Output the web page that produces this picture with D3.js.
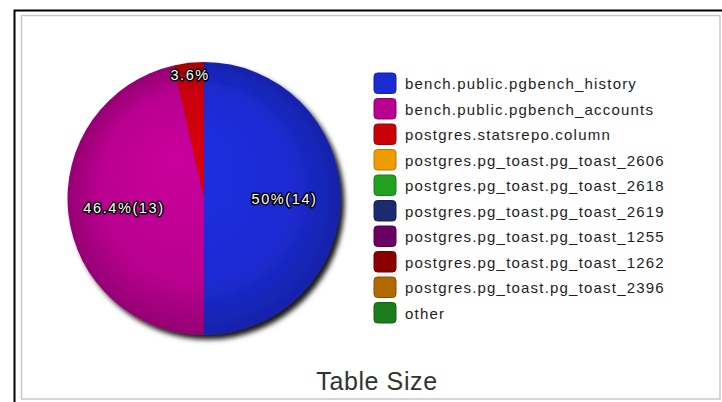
<!DOCTYPE html>
<html>
<head>
<meta charset="utf-8">
<script src="https://cdn.jsdelivr.net/npm/d3@7"></script>
<style>
  html, body { margin: 0; padding: 0; background: #fff; }
  svg { display: block; }
</style>
</head>
<body>
<svg id="chart" width="722" height="402"></svg>
<script>
// Table names shown in the legend, in slice order
const tables = [
  "bench.public.pgbench_history",
  "bench.public.pgbench_accounts",
  "postgres.statsrepo.column",
  "postgres.pg_toast.pg_toast_2606",
  "postgres.pg_toast.pg_toast_2618",
  "postgres.pg_toast.pg_toast_2619",
  "postgres.pg_toast.pg_toast_1255",
  "postgres.pg_toast.pg_toast_1262",
  "postgres.pg_toast.pg_toast_2396",
  "other"
];
// Table size counts per table
const sizes = [14, 13, 1, 0, 0, 0, 0, 0, 0, 0];
// Series colours
const colors = [
  "#1b2bd2", "#b9008f", "#c80008", "#ee9c00", "#22a020",
  "#1c2a6e", "#6a0062", "#8a0000", "#b06800", "#1c7c1c"
];
const title = "Table Size";

const svg = d3.select("#chart");
const defs = svg.append("defs");

// Frame: black outer rule, light grey inner panel
svg.append("path").attr("d", "M14.5,402 V10.5 H722")
  .attr("fill", "none").attr("stroke", "#000").attr("stroke-width", 2);
svg.append("rect").attr("x", 21.5).attr("y", 15.5).attr("width", 698.5).attr("height", 383.5)
  .attr("fill", "#fff").attr("stroke", "#c8c8c8").attr("stroke-width", 1.5);

// Pie geometry
const cx = 204, cy = 198.5, radius = 136.5;
const total = d3.sum(sizes);
const color = d3.scaleOrdinal().domain(tables).range(colors);

const pie = d3.pie().sort(null).value(d => d.size).startAngle(0).endAngle(2 * Math.PI);
const arcs = pie(tables.map((t, i) => ({ name: t, size: sizes[i] }))).filter(a => a.data.size > 0);
const arc = d3.arc().innerRadius(0).outerRadius(radius);

// Drop shadow under the pie
const shadow = defs.append("filter").attr("id", "pieShadow")
  .attr("x", "-20%").attr("y", "-20%").attr("width", "140%").attr("height", "140%");
shadow.append("feDropShadow").attr("dx", 4).attr("dy", 4.5).attr("stdDeviation", 2.8)
  .attr("flood-color", "#000").attr("flood-opacity", 0.9);

// Shaded fill per slice: lighter toward the middle, darker at the rim
arcs.forEach((a, i) => {
  const base = d3.color(color(a.data.name));
  const g = defs.append("radialGradient").attr("id", "shade" + i)
    .attr("gradientUnits", "userSpaceOnUse")
    .attr("cx", 0).attr("cy", 0).attr("r", radius)
    .attr("fx", -30).attr("fy", -40);
  g.append("stop").attr("offset", "0%").attr("stop-color", base.brighter(0.25));
  g.append("stop").attr("offset", "70%").attr("stop-color", base);
  g.append("stop").attr("offset", "100%").attr("stop-color", base.darker(0.6));
});

const pieG = svg.append("g").attr("transform", `translate(${cx},${cy})`);
pieG.append("g").attr("filter", "url(#pieShadow)")
  .selectAll("path").data(arcs).join("path")
  .attr("d", arc)
  .attr("fill", (d, i) => `url(#shade${i})`);

// Slice labels: percentage, plus count when the slice is wide enough
const fmtPct = v => (Math.round(v * 10) / 10) + "%";
pieG.selectAll("text.lbl").data(arcs).join("text")
  .attr("class", "lbl")
  .each(function (d) {
    const frac = d.data.size / total;
    const rr = frac < 0.1 ? radius * 0.91 : radius * 0.59;
    const mid = (d.startAngle + d.endAngle) / 2;
    d3.select(this)
      .attr("x", Math.sin(mid) * rr)
      .attr("y", -Math.cos(mid) * rr)
      .text(frac < 0.1 ? fmtPct(frac * 100) : `${fmtPct(frac * 100)}(${d.data.size})`);
  })
  .attr("text-anchor", "middle")
  .attr("dominant-baseline", "central")
  .attr("font-family", "'Liberation Sans', Arial, sans-serif")
  .attr("font-size", 14.5)
  .attr("letter-spacing", 1.6)
  .attr("fill", "#fff")
  .attr("stroke", "#000")
  .attr("stroke-width", 3)
  .attr("stroke-linejoin", "round")
  .attr("paint-order", "stroke");

// Legend
const legY = d3.scaleBand().domain(tables).range([70.5, 325.5]);
const legend = svg.append("g");
const rows = legend.selectAll("g").data(tables).join("g")
  .attr("transform", d => `translate(374,${legY(d)})`);
rows.append("rect")
  .attr("x", 0).attr("y", 2.5).attr("width", 22).attr("height", 20.5)
  .attr("rx", 3.5)
  .attr("fill", d => color(d))
  .attr("stroke", d => d3.color(color(d)).darker(0.7))
  .attr("stroke-width", 1);
rows.append("text")
  .attr("x", 31).attr("y", legY.bandwidth() / 2 + 0.5)
  .attr("dominant-baseline", "central")
  .attr("font-family", "'Liberation Sans', Arial, sans-serif")
  .attr("font-size", 15)
  .attr("letter-spacing", 1.2)
  .attr("fill", "#1e1e1e")
  .text(d => d);

// Title
svg.append("text")
  .attr("x", 377).attr("y", 390)
  .attr("text-anchor", "middle")
  .attr("font-family", "'Liberation Sans', Arial, sans-serif")
  .attr("font-size", 25)
  .attr("letter-spacing", 0.6)
  .attr("fill", "#333")
  .text(title);
</script>
</body>
</html>
